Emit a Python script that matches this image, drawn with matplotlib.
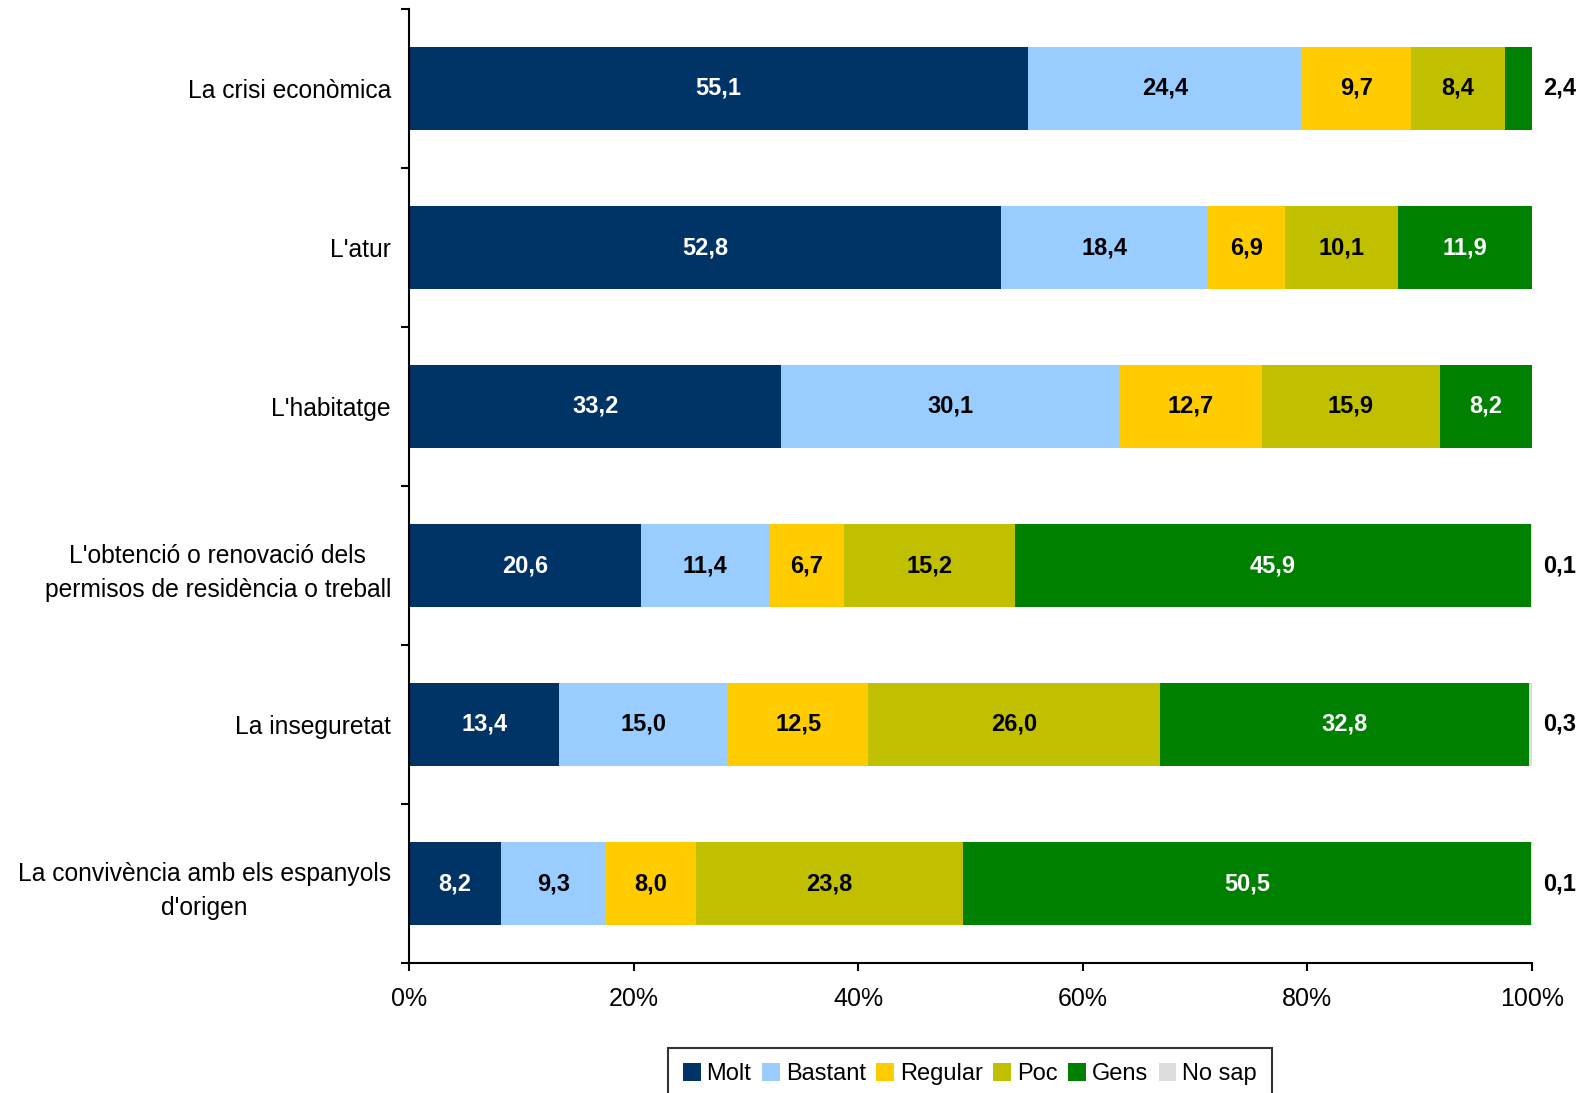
import matplotlib
matplotlib.use('Agg')
import matplotlib.pyplot as plt
import numpy as np

plt.rcParams['font.family'] = ['Liberation Sans', 'DejaVu Sans']

temes = ["La crisi econòmica",
         "L'atur",
         "L'habitatge",
         "L'obtenció o renovació dels\npermisos de residència o treball",
         "La inseguretat",
         "La convivència amb els espanyols\nd'origen"]

respostes = ['Molt', 'Bastant', 'Regular', 'Poc', 'Gens', 'No sap']
colors = ['#003366', '#99CCFF', '#FFCC00', '#C0C000', '#008000', '#DDDDDD']
text_colors = ['white', 'black', 'black', 'black', 'white', 'black']

molt = [55.1, 52.8, 33.2, 20.6, 13.4, 8.2]
bastant = [24.4, 18.4, 30.1, 11.4, 15.0, 9.3]
regular = [9.7, 6.9, 12.7, 6.7, 12.5, 8.0]
poc = [8.4, 10.1, 15.9, 15.2, 26.0, 23.8]
gens = [2.4, 11.9, 8.2, 45.9, 32.8, 50.5]
no_sap = [0.0, 0.0, 0.0, 0.1, 0.3, 0.1]

valors = np.array([molt, bastant, regular, poc, gens, no_sap])
percent = valors / valors.sum(axis=0) * 100

fig = plt.figure(figsize=(15.85, 10.93), dpi=100)
ax = fig.add_axes([409/1585, 1-963/1093, 1123/1585, 954/1093])

y = np.arange(len(temes))
left = np.zeros(len(temes))
for i in range(len(respostes)):
    ax.barh(y, percent[i], left=left, height=0.52, color=colors[i],
            label=respostes[i], linewidth=0)
    for j in range(len(temes)):
        v = valors[i, j]
        if v == 0:
            continue
        txt = ('%.1f' % v).replace('.', ',')
        if v < 3:
            # small segments get their label outside the bar
            ax.annotate(txt, xy=(100, y[j]), xytext=(8, 0), textcoords='offset points',
                        ha='left', va='center', fontsize=17, fontweight='bold', color='black')
        else:
            ax.text(left[j] + percent[i, j]/2, y[j], txt, ha='center', va='center',
                    fontsize=17, fontweight='bold', color=text_colors[i])
    left += percent[i]

ax.set_xlim(0, 100)
ax.set_ylim(len(temes) - 0.5, -0.5)
ax.set_xticks([0, 20, 40, 60, 80, 100])
ax.set_xticklabels(['0%', '20%', '40%', '60%', '80%', '100%'], fontsize=18)
ax.tick_params(axis='x', length=6, width=1.5, pad=11)

ax.set_yticks(np.arange(len(temes) + 1) - 0.5)
ax.set_yticklabels([])
ax.set_yticks(y, minor=True)
ax.set_yticklabels(temes, minor=True, fontsize=17.7, multialignment='center', linespacing=1.55)
ax.tick_params(axis='y', which='major', length=6, width=1.5)
ax.tick_params(axis='y', which='minor', length=0, pad=13)

for s in ['top', 'right']:
    ax.spines[s].set_visible(False)
for s in ['left', 'bottom']:
    ax.spines[s].set_linewidth(1.5)

leg = fig.legend(loc='upper center', bbox_to_anchor=(970/1585, 1-1048/1093), ncol=6,
                 fontsize=17, frameon=True, fancybox=False, edgecolor='black',
                 handlelength=0.75, handleheight=0.75, handletextpad=0.25,
                 columnspacing=0.45, borderpad=0.65, borderaxespad=0)
leg.get_frame().set_linewidth(1.5)

fig.savefig('out.png', dpi=100)
